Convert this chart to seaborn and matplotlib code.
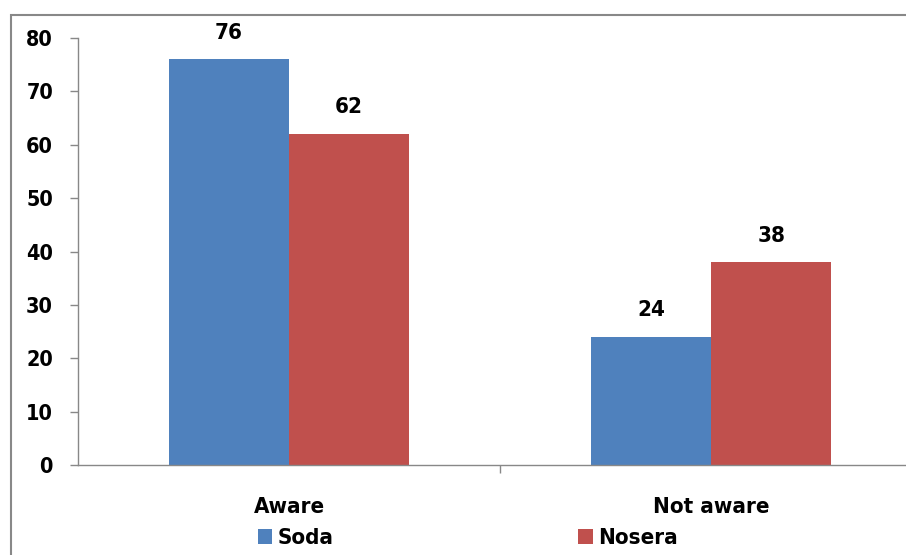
import matplotlib
matplotlib.use("Agg")
import matplotlib.pyplot as plt
from matplotlib.patches import Rectangle
from matplotlib import font_manager
import seaborn as sns
import pandas as pd

categories = ["Aware", "Not aware"]
soda = [76, 24]
nosera = [62, 38]
series_names = ["Soda", "Nosera"]
colors = ["#4F81BD", "#C0504D"]
y_ticks = [0, 10, 20, 30, 40, 50, 60, 70, 80]

df = pd.DataFrame({
    "category": categories * 2,
    "value": soda + nosera,
    "series": [series_names[0]] * len(categories) + [series_names[1]] * len(categories),
})

sns.set_theme(style="white")
installed = {f.name for f in font_manager.fontManager.ttflist}
narrow = [n for n in ["Liberation Sans Narrow", "Arial Narrow", "DejaVu Sans Condensed"] if n in installed]
plt.rcParams["font.family"] = narrow + ["DejaVu Sans"]
plt.rcParams["font.stretch"] = "condensed"
plt.rcParams["font.weight"] = "bold"
for key in ["text.color", "axes.labelcolor", "xtick.color", "ytick.color"]:
    plt.rcParams[key] = "black"

fs = 16

fig = plt.figure(figsize=(9.06, 5.55), dpi=100)
ax = fig.add_axes([78 / 906, 90 / 555, 844 / 906, 427 / 555])

sns.barplot(data=df, x="category", y="value", hue="series", palette=colors,
            width=0.57, saturation=1, ax=ax, legend=True, edgecolor="none")

for cont in ax.containers:
    ax.bar_label(cont, fmt="%g", padding=12, fontsize=fs, fontweight="bold", color="black")

ax.set_ylim(0, 80)
ax.set_xlim(-0.5, 1.5)
ax.set_yticks(y_ticks)
ax.set_xlabel("")
ax.set_ylabel("")
ax.tick_params(axis="y", labelsize=15.5, length=6, width=1, color="#888888", pad=12,
               left=True, direction="out", labelcolor="black")
ax.tick_params(axis="x", labelsize=fs, length=0, pad=23, labelcolor="black")
for lab in ax.get_xticklabels() + ax.get_yticklabels():
    lab.set_fontweight("bold")
# tick at the boundary between the two categories
ax.set_xticks([0.5], minor=True)
ax.tick_params(axis="x", which="minor", length=6, width=1, color="#888888", bottom=True)

for side in ["top", "right"]:
    ax.spines[side].set_visible(False)
for side in ["left", "bottom"]:
    ax.spines[side].set_color("#888888")
    ax.spines[side].set_linewidth(1)

handles, labels = ax.get_legend_handles_labels()
ax.legend_.remove()
fig.legend(handles, labels, loc="center", bbox_to_anchor=(468 / 906, 1 - 538 / 555),
           ncol=2, frameon=False, fontsize=fs, handlelength=0.65, handleheight=0.65,
           handletextpad=0.25, columnspacing=11.0, borderaxespad=0, labelcolor="black")

# chart-area border
fig.patches.append(Rectangle((11 / 906, -0.1), 1.2, 1 - 15 / 555 + 0.1,
                             transform=fig.transFigure, fill=False,
                             edgecolor="#888888", linewidth=1.5))

fig.savefig("out.png", dpi=100)
